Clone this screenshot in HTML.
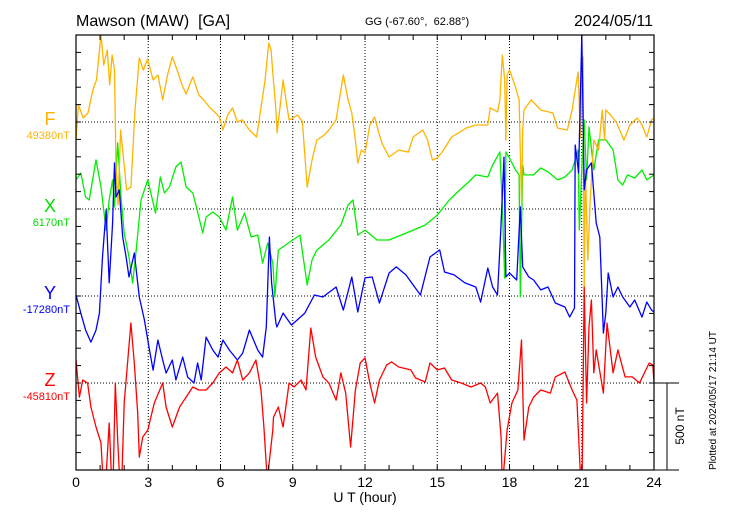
<!DOCTYPE html>
<html><head><meta charset="utf-8"><style>
body{margin:0;background:#fff;}
svg{display:block;font-family:"Liberation Sans",Arial,sans-serif;}
</style></head><body>
<svg id="chart" width="730" height="520" viewBox="0 0 730 520" xmlns="http://www.w3.org/2000/svg">
<rect width="730" height="520" fill="#fff"/>
<text x="76" y="26" font-size="16" fill="#000" xml:space="preserve" style="white-space:pre">Mawson (MAW)  [GA]</text>
<text x="365" y="25" font-size="11" fill="#000" xml:space="preserve" style="white-space:pre">GG (-67.60°,  62.88°)</text>
<text x="653" y="26" font-size="16" fill="#000" text-anchor="end">2024/05/11</text>
<g id="grid"></g>
<defs><clipPath id="plotclip"><rect x="76" y="35" width="578" height="435"/></clipPath></defs>
<g id="series" clip-path="url(#plotclip)"></g>
<g id="axes"></g>
<text x="50" y="125" font-size="18" fill="#ffb400" text-anchor="middle">F</text>
<text x="70" y="139" font-size="11" fill="#ffb400" text-anchor="end">49380nT</text>
<text x="50" y="212" font-size="18" fill="#00dd00" text-anchor="middle">X</text>
<text x="70" y="226" font-size="11" fill="#00dd00" text-anchor="end">6170nT</text>
<text x="50" y="299" font-size="18" fill="#0000ff" text-anchor="middle">Y</text>
<text x="70" y="313" font-size="11" fill="#0000ff" text-anchor="end">-17280nT</text>
<text x="50" y="386" font-size="18" fill="#ff0000" text-anchor="middle">Z</text>
<text x="70" y="400" font-size="11" fill="#ff0000" text-anchor="end">-45810nT</text>
<text x="365" y="502" font-size="14" fill="#000" text-anchor="middle">U T (hour)</text>
<g>
<line x1="654" y1="383" x2="679" y2="383" stroke="#000" stroke-width="1"/>
<line x1="654" y1="470" x2="679" y2="470" stroke="#000" stroke-width="1"/>
<line x1="667" y1="383" x2="667" y2="470" stroke="#000" stroke-width="1"/>
<text transform="translate(684,426) rotate(-90)" font-size="12" fill="#000" text-anchor="middle">500 nT</text>
</g>
<text transform="translate(716,470) rotate(-90)" font-size="10" fill="#000">Plotted at 2024/05/17 21:14 UT</text>
</svg>
<script>
const xTicks = [0,3,6,9,12,15,18,21,24];
const fBase = 49380, xBase = 6170, yBase = -17280, zBase = -45810;
const fHours = [0,0.1,0.3,0.5,0.7,0.85,1.04,1.15,1.3,1.4,1.5,1.6,1.66,1.75,1.85,2.0,2.1,2.28,2.45,2.63,2.8,2.97,3.2,3.4,3.6,3.8,4.0,4.2,4.4,4.57,4.85,5.1,5.3,5.54,5.75,5.95,6.1,6.3,6.5,6.7,6.9,7.2,7.5,7.7,7.85,8.0,8.1,8.17,8.3,8.35,8.6,8.75,8.85,9.0,9.2,9.4,9.6,9.8,10.0,10.3,10.5,10.8,11.1,11.3,11.45,11.6,11.7,11.85,12.0,12.2,12.4,12.6,12.7,13.0,13.4,13.8,14.0,14.4,14.6,14.8,15.0,15.2,15.6,16.2,16.6,17.1,17.2,17.5,17.6,17.7,17.8,17.85,17.9,18.0,18.25,18.4,18.5,18.55,18.6,18.9,19.3,19.8,20.0,20.4,20.6,20.85,20.95,21.05,21.1,21.15,21.25,21.35,21.5,21.7,21.85,21.95,22.0,22.2,22.45,22.75,23.0,23.3,23.5,23.7,23.9,24];
const fValues = [-104,98,23,52,184,242,500,327,414,213,385,299,-259,-477,-46,-247,-391,-374,69,368,299,362,242,270,127,270,374,299,213,161,259,155,127,86,58,29,-46,40,81,0,12,-46,-86,98,242,454,414,282,69,-63,242,98,12,23,40,0,-374,-219,-104,-75,-46,12,270,127,52,-104,-236,-161,-178,-17,29,-75,-121,-201,-161,-173,-86,-46,-104,-219,-207,-173,-86,-35,-17,-17,81,58,127,385,242,-104,270,299,201,127,-466,-46,69,127,69,52,-35,-46,69,288,-92,374,-966,-276,-794,-449,-104,-161,69,-104,69,40,-6,-104,-17,23,-17,-86,12,23];
const xHours = [0,0.2,0.4,0.55,0.83,1.04,1.25,1.38,1.52,1.6,1.73,1.87,2.0,2.2,2.35,2.5,2.7,2.98,3.3,3.5,3.67,3.88,4.15,4.36,4.57,4.85,5.0,5.26,5.4,5.68,5.95,6.23,6.5,6.7,7.0,7.27,7.55,7.75,7.96,8.17,8.26,8.4,8.7,9.0,9.3,9.6,9.8,10.0,10.5,11.0,11.3,11.5,11.7,12.0,12.5,13.0,13.5,14.0,14.5,15.0,15.5,15.8,16.3,16.6,17.1,17.3,17.6,17.7,17.8,17.85,18.0,18.25,18.4,18.45,18.55,18.6,19.0,19.3,19.6,20.0,20.3,20.6,20.85,20.9,21.0,21.1,21.2,21.3,21.5,21.7,22.0,22.3,22.5,22.7,22.9,23.2,23.5,23.7,24];
const xValues = [167,207,69,52,282,127,-121,52,167,12,380,69,-138,-276,-426,-236,52,167,-23,184,92,127,242,270,127,92,12,-138,-46,-17,-46,-121,69,-121,-23,-161,-150,-311,-196,-311,-506,-236,-207,-178,-150,-437,-293,-236,-178,-92,23,52,-150,-121,-178,-178,-150,-121,-92,-35,52,92,155,196,184,253,328,23,-397,328,293,224,196,-506,253,196,196,236,213,167,184,224,339,-121,224,512,167,472,224,397,397,339,167,138,196,178,224,167,196];
const yHours = [0,0.2,0.4,0.62,0.83,0.97,1.1,1.25,1.38,1.52,1.6,1.66,1.8,1.94,2.08,2.2,2.42,2.63,2.84,3.05,3.2,3.4,3.6,3.74,4.0,4.15,4.43,4.64,4.9,5.05,5.2,5.4,5.68,5.9,6.1,6.37,6.7,6.92,7.2,7.55,7.75,7.9,8.03,8.12,8.3,8.34,8.6,8.95,9.5,9.9,10.25,10.8,11.1,11.45,11.7,12.0,12.3,12.6,13.0,13.3,13.7,14.3,14.7,15.1,15.3,15.7,16.15,16.6,16.8,17.1,17.3,17.5,17.64,17.77,17.85,18.0,18.3,18.45,18.55,18.8,19.0,19.3,19.6,19.9,20.3,20.5,20.7,20.73,20.87,21.0,21.1,21.2,21.4,21.6,21.75,21.9,22.0,22.1,22.3,22.5,22.7,23.0,23.2,23.5,23.7,23.9,24];
const yValues = [6,-98,-196,-265,-196,-98,224,495,75,420,765,569,610,339,224,109,247,-6,-138,-311,-426,-253,-368,-443,-368,-483,-351,-466,-500,-385,-483,-236,-311,-351,-253,-311,-368,-328,-196,-311,-351,-178,339,75,-155,-178,-98,-167,-98,6,-6,52,-81,109,-92,104,109,-40,132,167,121,6,224,265,138,121,75,52,-35,161,52,6,380,799,109,132,92,512,167,109,92,35,52,-40,-63,-121,-69,868,707,1500,610,725,765,420,339,-213,-98,132,-6,52,-6,-63,-23,-121,-35,-81,-92];
const zHours = [0,0.14,0.28,0.48,0.62,0.83,1.04,1.18,1.38,1.52,1.63,1.73,1.87,2.0,2.15,2.28,2.42,2.56,2.63,2.77,2.98,3.25,3.6,3.74,4.0,4.3,4.57,4.85,5.1,5.4,5.68,5.95,6.23,6.5,6.7,6.92,7.2,7.47,7.68,7.8,7.96,8.0,8.17,8.2,8.4,8.6,8.85,9.05,9.35,9.55,9.75,9.95,10.25,10.5,10.8,11.0,11.2,11.4,11.6,11.8,12.0,12.2,12.4,12.6,12.9,13.1,13.4,13.9,14.1,14.5,14.7,15.0,15.3,15.6,16.0,16.4,16.8,17.0,17.2,17.5,17.65,17.7,17.9,18.1,18.35,18.5,18.6,18.8,19.0,19.3,19.7,19.9,20.3,20.6,20.8,21.0,21.1,21.2,21.3,21.4,21.5,21.6,21.9,22.05,22.3,22.5,22.8,23.1,23.4,23.8,23.95,24];
const zValues = [132,-81,17,0,-138,-253,-345,-700,-230,-700,0,-328,-700,-115,132,345,115,-173,-426,-311,-270,-115,0,-138,-253,-138,-81,-23,-40,-40,0,58,92,58,132,17,58,132,-40,-253,-600,-483,-270,-196,-138,-253,0,-23,17,-40,316,150,35,0,-98,58,-58,-368,-40,115,144,0,-115,17,104,121,92,75,29,6,115,75,86,17,0,-23,0,-23,-115,-58,-311,-600,-270,-115,-40,247,-328,-138,-81,-40,-58,35,63,-40,-98,-700,552,-115,322,477,58,190,-58,345,58,190,35,35,0,115,104,6];

const NS = 'http://www.w3.org/2000/svg';
const X0 = 76, X1 = 654, Y0 = 35, Y1 = 470;
const pxPerNT = 87 / 500;
function xScale(h){ return X0 + (X1 - X0) * h / 24; }
function yScale(v, basePx){ return basePx - v * pxPerNT; }
function mk(tag, attrs, parent){ const e = document.createElementNS(NS, tag); for (const k in attrs) e.setAttribute(k, attrs[k]); parent.appendChild(e); return e; }

const grid = document.getElementById('grid');
const axes = document.getElementById('axes');
const series = document.getElementById('series');
const baselines = [122, 209, 296, 383];
const baseNames = ['f-baseline', 'x-baseline', 'y-baseline', 'z-baseline'];
baselines.forEach((b, i) => {
  const l = mk('line', {x1:X0, y1:b, x2:X1, y2:b, stroke:'#000', 'stroke-width':1, 'stroke-dasharray':'1,2'}, grid);
  
  
});
xTicks.forEach(t => {
  if (t > 0 && t < 24) {
    const l = mk('line', {x1:xScale(t), y1:Y0, x2:xScale(t), y2:Y1, stroke:'#000', 'stroke-width':1, 'stroke-dasharray':'1,2'}, grid);
    
    
  }
  const lab = mk('text', {x:xScale(t), y:487, 'font-size':14, 'text-anchor':'middle', fill:'#000'}, axes);
  lab.textContent = t;
  
  
});
for (let h = 1; h < 24; h++) {
  const t1 = mk('line', {x1:xScale(h), y1:Y0, x2:xScale(h), y2:Y0+5, stroke:'#000', 'stroke-width':1}, axes);
  
  
  const t2 = mk('line', {x1:xScale(h), y1:Y1, x2:xScale(h), y2:Y1-5, stroke:'#000', 'stroke-width':1}, axes);
  
  
}
for (let y = 383 + 87; y >= Y0; y -= 17.4) {
  const a = mk('line', {x1:X0, y1:y, x2:X0+5, y2:y, stroke:'#000', 'stroke-width':1}, axes);
  
  
  const b = mk('line', {x1:X1, y1:y, x2:X1-5, y2:y, stroke:'#000', 'stroke-width':1}, axes);
  
  
}
const frame = mk('rect', {x:X0, y:Y0, width:X1-X0, height:Y1-Y0, fill:'none', stroke:'#000', 'stroke-width':1.2}, axes);



function drawSeries(hours, vals, basePx, color, name){
  const pts = hours.map((h, i) => xScale(h).toFixed(1) + ',' + yScale(vals[i], basePx).toFixed(1)).join(' ');
  const p = mk('polyline', {points:pts, fill:'none', stroke:color, 'stroke-width':1.3, 'stroke-linejoin':'round'}, series);
  
  
}
drawSeries(xHours, xValues, 209, '#00ee00', 'x-component-line');
drawSeries(fHours, fValues, 122, '#ffb400', 'f-component-line');
drawSeries(yHours, yValues, 296, '#0000ff', 'y-component-line');
drawSeries(zHours, zValues, 383, '#ff0000', 'z-component-line');
</script>
</body></html>
